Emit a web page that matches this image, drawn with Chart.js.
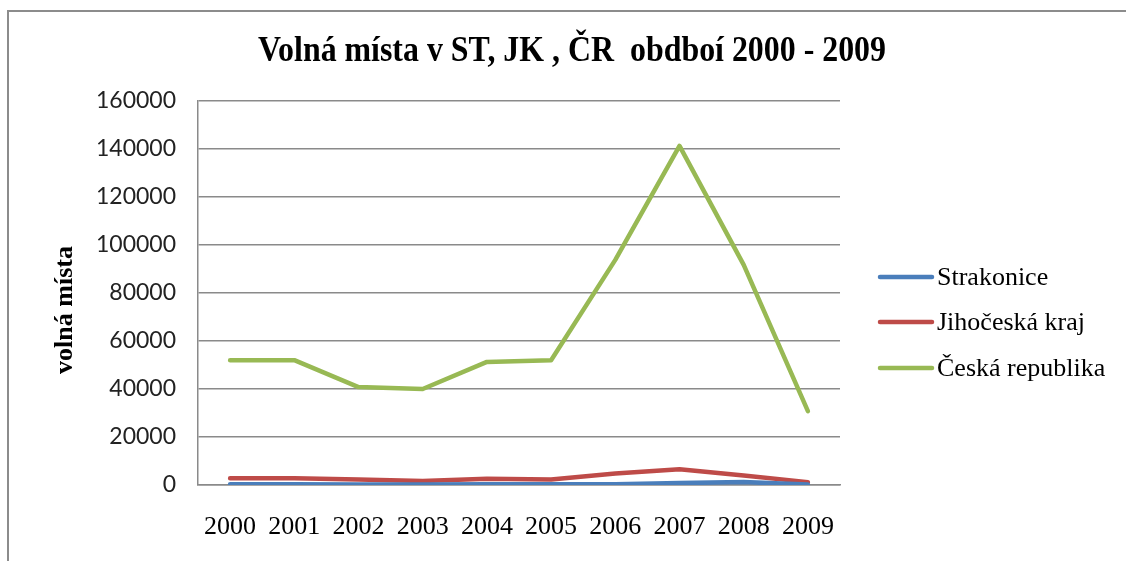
<!DOCTYPE html>
<html lang="cs">
<head>
  <meta charset="UTF-8" />
  <title>Volná místa v ST, JK, ČR</title>
  <script src="https://cdn.jsdelivr.net/npm/chart.js"></script>
  <style>
    html, body { margin: 0; padding: 0; background: #fff; }
    #wrap { position: relative; width: 1126px; height: 561px; }
  </style>
</head>
<body>
  <div id="wrap"><canvas id="chart" width="1126" height="561"></canvas></div>

  <script>
    // data
    const years = ['2000', '2001', '2002', '2003', '2004', '2005', '2006', '2007', '2008', '2009'];
    const strakonice = [300, 300, 250, 200, 300, 300, 350, 800, 1200, 200];
    const jihoceskyKraj = [2800, 2800, 2300, 1700, 2600, 2300, 4800, 6600, 4000, 1200];
    const ceskaRepublika = [52000, 52000, 40800, 40000, 51300, 52000, 93800, 141300, 91700, 30800];
    const yTicks = [0, 20000, 40000, 60000, 80000, 100000, 120000, 140000, 160000];

    const chartTitle = 'Volná místa v ST, JK , ČR  obdboí 2000 - 2009';
    const yTitle = 'volná místa';

    const gridColor = '#8a8a8a';

    // frame, title, y title and legend
    const decor = {
      id: 'decor',
      beforeDraw(chart) {
        const ctx = chart.ctx;
        ctx.save();
        ctx.fillStyle = '#fff';
        ctx.fillRect(0, 0, chart.width, chart.height);
        ctx.strokeStyle = '#8c8c8c';
        ctx.lineWidth = 2;
        ctx.beginPath();
        ctx.moveTo(8, chart.height + 5);
        ctx.lineTo(8, 11);
        ctx.lineTo(chart.width + 5, 11);
        ctx.stroke();
        ctx.restore();
      },
      afterDraw(chart) {
        const ctx = chart.ctx;
        ctx.save();
        ctx.fillStyle = '#000';

        // title, squeezed to the width of the original
        ctx.font = 'bold 36px "Liberation Serif", "Times New Roman", serif';
        ctx.textBaseline = 'alphabetic';
        const w = ctx.measureText(chartTitle).width;
        const targetW = 628;
        ctx.save();
        ctx.translate(258, 61);
        ctx.scale(targetW / w, 1);
        ctx.fillText(chartTitle, 0, 0);
        ctx.restore();

        // y axis title
        ctx.save();
        ctx.translate(65, 310);
        ctx.rotate(-Math.PI / 2);
        ctx.font = 'bold 26px "Liberation Serif", "Times New Roman", serif';
        ctx.textAlign = 'center';
        ctx.textBaseline = 'middle';
        ctx.fillText(yTitle, 0, 0);
        ctx.restore();

        // legend
        const rows = [277, 322, 368];
        ctx.font = '26px "Liberation Serif", "Times New Roman", serif';
        ctx.textAlign = 'left';
        ctx.textBaseline = 'middle';
        chart.data.datasets.forEach((ds, i) => {
          const y = rows[i];
          ctx.strokeStyle = ds.borderColor;
          ctx.lineWidth = 4.5;
          ctx.lineCap = 'round';
          ctx.beginPath();
          ctx.moveTo(880, y);
          ctx.lineTo(932, y);
          ctx.stroke();
          ctx.fillText(ds.label, 937, y + 1);
        });
        ctx.restore();
      }
    };

    new Chart(document.getElementById('chart'), {
      type: 'line',
      data: {
        labels: years,
        datasets: [
          { label: 'Strakonice', data: strakonice, borderColor: '#4a7ebb' },
          { label: 'Jihočeská kraj', data: jihoceskyKraj, borderColor: '#be4b48' },
          { label: 'Česká republika', data: ceskaRepublika, borderColor: '#98b954' }
        ]
      },
      options: {
        responsive: false,
        animation: false,
        devicePixelRatio: 1,
        layout: { padding: { left: 0, right: 286, top: 101, bottom: 16 } },
        elements: {
          point: { radius: 0, hoverRadius: 0 },
          line: { borderWidth: 4.5, tension: 0, borderJoinStyle: 'round', borderCapStyle: 'round', fill: false }
        },
        plugins: {
          legend: { display: false },
          title: { display: false },
          tooltip: { enabled: false }
        },
        scales: {
          x: {
            offset: true,
            grid: { display: false, drawTicks: false },
            border: { display: true, color: gridColor, width: 1.5 },
            ticks: {
              padding: 27,
              color: '#000',
              maxRotation: 0,
              autoSkip: false,
              font: { family: '"Liberation Serif", "Times New Roman", serif', size: 26 }
            },
            afterFit(scale) { scale.height = 60; }
          },
          y: {
            min: 0,
            max: 160000,
            afterBuildTicks(scale) { scale.ticks = yTicks.map(v => ({ value: v })); },
            grid: { color: gridColor, lineWidth: 1.5, drawTicks: false },
            border: { display: true, color: gridColor, width: 1.5 },
            ticks: {
              padding: 22,
              color: '#222',
              callback: v => String(v),
              font: { family: 'Lato, "Open Sans", sans-serif', size: 23 }
            },
            afterFit(scale) { scale.width = 198; }
          }
        }
      },
      plugins: [decor]
    });
  </script>
</body>
</html>
